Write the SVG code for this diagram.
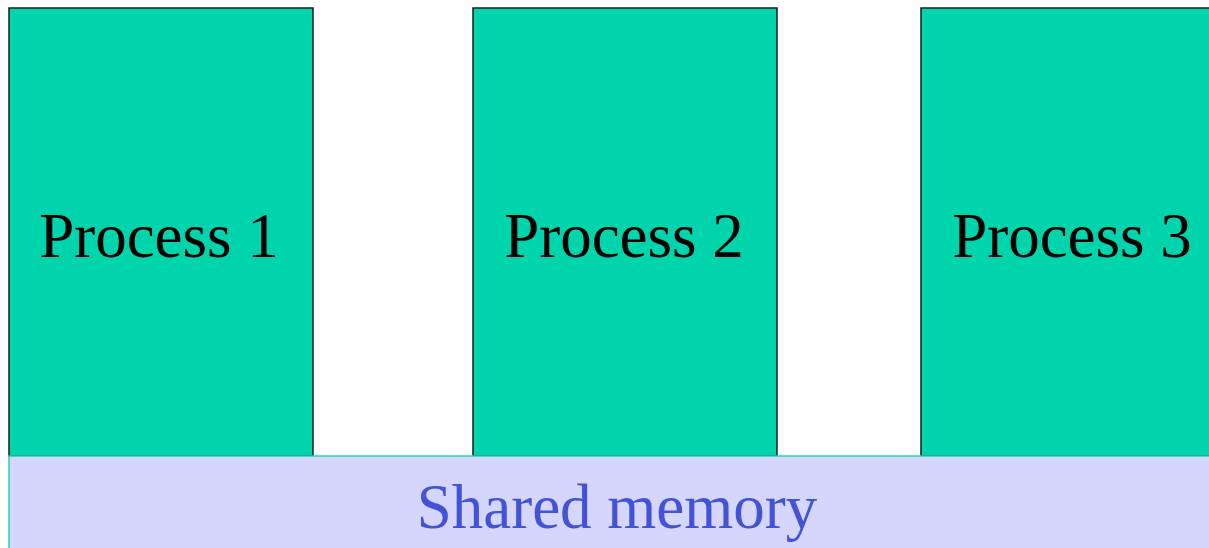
<svg xmlns="http://www.w3.org/2000/svg" width="1209" height="548" viewBox="0 0 1209 548">
<style>
.proc{fill:#00d4ad;stroke:#1a1a1a;stroke-width:1.5}
.mem{fill:#d5d6fe;stroke:#1ed8b0;stroke-width:1.5}
.pt{font-family:"Liberation Serif","Times New Roman",serif;font-size:63px;fill:#000;text-anchor:middle}
.mt{font-family:"Liberation Serif","Times New Roman",serif;font-size:63px;fill:#4352d6;text-anchor:middle}
</style>
<rect width="1209" height="548" fill="#fff"/>
<g id="process1"><rect class="proc" x="9" y="8" width="304" height="448"/><text class="pt" x="159" y="257">Process 1</text></g>
<g id="process2"><rect class="proc" x="473" y="8" width="304" height="448"/><text class="pt" x="624" y="257">Process 2</text></g>
<g id="process3"><rect class="proc" x="921" y="8" width="304" height="448"/><text class="pt" x="1072" y="257">Process 3</text></g>
<g id="shared-memory"><rect class="mem" x="9" y="456" width="1215" height="110"/><text class="mt" x="617" y="528">Shared memory</text></g>
<g id="connectors"></g>
</svg>
